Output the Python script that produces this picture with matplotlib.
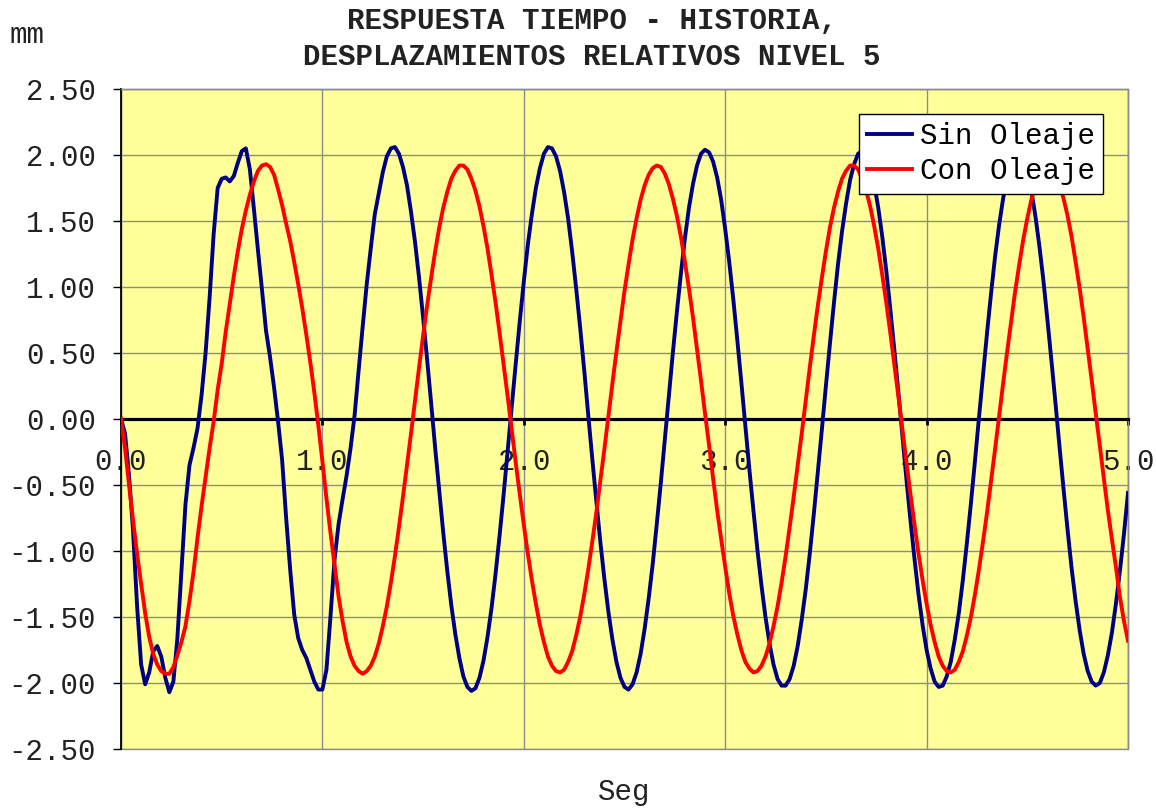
import numpy as np
import matplotlib
matplotlib.use("Agg")
import matplotlib.pyplot as plt
from matplotlib.ticker import FixedLocator, FormatStrFormatter

plt.rcParams["font.family"] = ["Liberation Mono", "DejaVu Sans Mono"]

# Sampling step of the records (s)
paso = 0.02

# Relative displacement of level 5 (mm), without wave action
sin_oleaje = [
    0.00, -0.11, -0.43, -0.85, -1.42, -1.86, -2.01, -1.92, -1.76, -1.72,
    -1.80, -1.96, -2.07, -1.99, -1.66, -1.15, -0.65, -0.35, -0.22, -0.07,
    0.18, 0.50, 0.92, 1.40, 1.75, 1.82, 1.83, 1.80, 1.84, 1.94,
    2.03, 2.05, 1.89, 1.59, 1.28, 0.98, 0.67, 0.47, 0.24, -0.02,
    -0.31, -0.75, -1.14, -1.48, -1.66, -1.75, -1.81, -1.90, -1.99, -2.05,
    -2.05, -1.90, -1.50, -1.07, -0.80, -0.61, -0.43, -0.22, 0.03, 0.37,
    0.70, 1.02, 1.29, 1.55, 1.71, 1.87, 1.99, 2.05, 2.06, 2.01,
    1.91, 1.77, 1.57, 1.34, 1.07, 0.77, 0.45, 0.12, -0.22, -0.54,
    -0.86, -1.15, -1.41, -1.63, -1.81, -1.95, -2.03, -2.06, -2.04, -1.96,
    -1.83, -1.65, -1.43, -1.17, -0.88, -0.57, -0.24, 0.09, 0.42, 0.74,
    1.04, 1.32, 1.55, 1.75, 1.90, 2.01, 2.06, 2.05, 1.99, 1.88,
    1.72, 1.52, 1.27, 0.99, 0.69, 0.37, 0.03, -0.30, -0.62, -0.93,
    -1.21, -1.46, -1.67, -1.84, -1.96, -2.03, -2.05, -2.01, -1.92, -1.78,
    -1.59, -1.36, -1.10, -0.80, -0.49, -0.16, 0.17, 0.50, 0.81, 1.10,
    1.37, 1.60, 1.78, 1.92, 2.01, 2.04, 2.02, 1.95, 1.83, 1.66,
    1.44, 1.19, 0.91, 0.60, 0.28, -0.05, -0.38, -0.69, -0.99, -1.26,
    -1.50, -1.70, -1.86, -1.97, -2.02, -2.02, -1.97, -1.87, -1.72, -1.52,
    -1.29, -1.02, -0.72, -0.40, -0.08, 0.25, 0.57, 0.88, 1.17, 1.42,
    1.63, 1.81, 1.93, 2.01, 2.03, 2.00, 1.92, 1.78, 1.60, 1.38,
    1.12, 0.83, 0.52, 0.20, -0.13, -0.46, -0.77, -1.06, -1.33, -1.56,
    -1.75, -1.89, -1.99, -2.03, -2.02, -1.95, -1.84, -1.67, -1.47, -1.22,
    -0.94, -0.64, -0.32, 0.01, 0.33, 0.65, 0.95, 1.23, 1.47, 1.67,
    1.83, 1.95, 2.01, 2.02, 1.97, 1.88, 1.73, 1.54, 1.31, 1.05,
    0.75, 0.44, 0.12, -0.21, -0.53, -0.84, -1.13, -1.38, -1.60, -1.78,
    -1.91, -1.99, -2.02, -2.00, -1.92, -1.79, -1.62, -1.40, -1.15, -0.87,
    -0.56,
]

# Relative displacement of level 5 (mm), with wave action
con_oleaje = [
    0.00, -0.22, -0.50, -0.77, -1.02, -1.25, -1.47, -1.65, -1.78, -1.86,
    -1.91, -1.93, -1.93, -1.88, -1.79, -1.69, -1.57, -1.38, -1.16, -0.90,
    -0.66, -0.44, -0.22, -0.02, 0.22, 0.42, 0.66, 0.87, 1.08, 1.27,
    1.44, 1.58, 1.70, 1.80, 1.88, 1.92, 1.93, 1.91, 1.85, 1.74,
    1.62, 1.48, 1.35, 1.19, 1.02, 0.84, 0.64, 0.43, 0.20, -0.05,
    -0.32, -0.60, -0.86, -1.10, -1.34, -1.53, -1.69, -1.80, -1.87, -1.91,
    -1.93, -1.91, -1.87, -1.80, -1.70, -1.57, -1.42, -1.24, -1.04, -0.82,
    -0.59, -0.35, -0.11, 0.14, 0.39, 0.63, 0.86, 1.07, 1.27, 1.45,
    1.60, 1.72, 1.82, 1.88, 1.92, 1.92, 1.89, 1.82, 1.73, 1.61,
    1.46, 1.29, 1.09, 0.88, 0.65, 0.41, 0.17, -0.08, -0.33, -0.57,
    -0.80, -1.02, -1.22, -1.40, -1.56, -1.69, -1.80, -1.87, -1.91, -1.92,
    -1.90, -1.84, -1.76, -1.64, -1.50, -1.33, -1.14, -0.93, -0.71, -0.47,
    -0.23, 0.02, 0.27, 0.51, 0.74, 0.97, 1.17, 1.36, 1.52, 1.66,
    1.77, 1.85, 1.90, 1.92, 1.91, 1.86, 1.78, 1.67, 1.54, 1.38,
    1.19, 0.99, 0.77, 0.53, 0.29, 0.04, -0.20, -0.45, -0.69, -0.91,
    -1.12, -1.32, -1.49, -1.63, -1.75, -1.84, -1.89, -1.92, -1.91, -1.87,
    -1.80, -1.70, -1.57, -1.42, -1.24, -1.04, -0.82, -0.59, -0.35, -0.11,
    0.14, 0.39, 0.63, 0.86, 1.07, 1.27, 1.45, 1.60, 1.72, 1.82,
    1.88, 1.92, 1.92, 1.89, 1.82, 1.73, 1.61, 1.46, 1.29, 1.09,
    0.88, 0.65, 0.41, 0.17, -0.08, -0.33, -0.57, -0.80, -1.02, -1.22,
    -1.40, -1.56, -1.69, -1.80, -1.87, -1.91, -1.92, -1.90, -1.84, -1.76,
    -1.64, -1.50, -1.33, -1.14, -0.93, -0.71, -0.47, -0.23, 0.02, 0.27,
    0.51, 0.74, 0.97, 1.17, 1.36, 1.52, 1.66, 1.77, 1.85, 1.90,
    1.92, 1.91, 1.86, 1.78, 1.67, 1.54, 1.38, 1.19, 0.99, 0.77,
    0.53, 0.29, 0.04, -0.20, -0.45, -0.69, -0.91, -1.12, -1.35, -1.53,
    -1.68,
]

tiempo = np.arange(len(sin_oleaje)) * paso

x_ticks = [0.0, 1.0, 2.0, 3.0, 4.0, 5.0]
y_ticks = [-2.5, -2.0, -1.5, -1.0, -0.5, 0.0, 0.5, 1.0, 1.5, 2.0, 2.5]

titulo = ["RESPUESTA TIEMPO - HISTORIA,", "DESPLAZAMIENTOS RELATIVOS NIVEL 5"]
series = ["Sin Oleaje", "Con Oleaje"]

W, H = 1156, 808
fig = plt.figure(figsize=(W / 100, H / 100), dpi=100)
fig.patch.set_facecolor("white")

left, right, top, bottom = 121, 1128, 89, 749
ax = fig.add_axes([left / W, 1 - bottom / H, (right - left) / W, (bottom - top) / H])
ax.set_facecolor("#FFFF99")
ax.set_xlim(x_ticks[0], x_ticks[-1])
ax.set_ylim(y_ticks[0], y_ticks[-1])

grid_color = "#8C8C8C"
ax.xaxis.set_major_locator(FixedLocator(x_ticks))
ax.yaxis.set_major_locator(FixedLocator(y_ticks))
ax.xaxis.set_major_formatter(FormatStrFormatter("%.1f"))
ax.yaxis.set_major_formatter(FormatStrFormatter("%.2f"))
ax.grid(True, color=grid_color, linewidth=1.0)

ax.plot(tiempo, sin_oleaje, color="#000080", linewidth=2.8, label=series[0], zorder=3)
ax.plot(tiempo, con_oleaje, color="#FF0000", linewidth=2.8, label=series[1], zorder=3)

# Horizontal axis crosses at zero; frame of the plot area in grey
ax.spines["bottom"].set_position(("data", 0))
ax.spines["bottom"].set_color("black")
ax.spines["bottom"].set_linewidth(2.3)
ax.spines["left"].set_color("black")
ax.spines["left"].set_linewidth(1.3)
for s in ("top", "right"):
    ax.spines[s].set_color(grid_color)
    ax.spines[s].set_linewidth(1.0)
ax.patch.set_edgecolor(grid_color)
ax.patch.set_linewidth(1.0)

ax.tick_params(axis="x", direction="out", length=4, width=2, color="black",
               pad=17, labelsize=21, labelcolor="#222222")
ax.tick_params(axis="y", direction="out", length=6, width=1, color="black",
               pad=12, labelsize=21, labelcolor="#222222")

leg = ax.legend(loc="upper left", bbox_to_anchor=(859 / W, 1 - 114 / H),
                bbox_transform=fig.transFigure, fontsize=21, frameon=True,
                fancybox=False, shadow=False, framealpha=1, edgecolor="black",
                handlelength=1.55, handletextpad=0.25, borderpad=0.28,
                labelspacing=0.25, borderaxespad=0)
leg.get_frame().set_linewidth(1.0)
for ln in leg.get_lines():
    ln.set_linewidth(2.8)

fig.text(592 / W, 1 - 21 / H, titulo[0], ha="center", va="center",
         fontsize=21, fontweight="bold", color="#222222")
fig.text(592 / W, 1 - 57 / H, titulo[1], ha="center", va="center",
         fontsize=21, fontweight="bold", color="#222222")
fig.text(10 / W, 1 - 35 / H, "mm", ha="left", va="center", fontsize=21, color="#222222")
fig.text(624 / W, 1 - 792 / H, "Seg", ha="center", va="center", fontsize=21, color="#222222")

fig.savefig("out.png", dpi=100, facecolor="white")
